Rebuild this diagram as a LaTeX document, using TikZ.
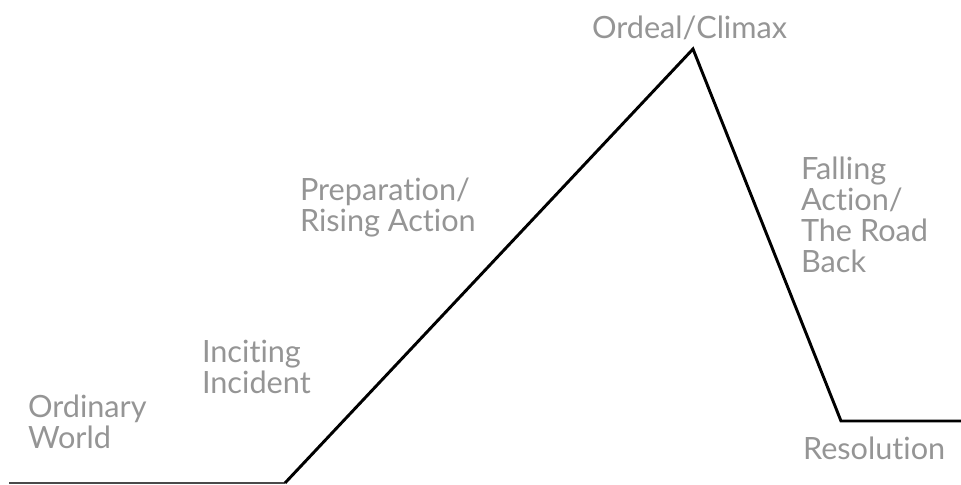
\documentclass[tikz,border=0pt]{standalone}
\usepackage{fontspec}
\setmainfont{Lato}[Ligatures={NoCommon,NoRare,NoContextual}]
\definecolor{labelgray}{HTML}{959595}
\definecolor{basegray}{HTML}{4A4A4A}
\tikzset{
  lbl/.style={anchor=base west, inner sep=0pt, outer sep=0pt, align=left,
    text=labelgray, font=\fontsize{23}{23.2}\selectfont},
  arc/.style={line width=2.2pt, line join=miter},
}
\begin{document}
\begin{tikzpicture}[x=0.75pt,y=-0.75pt]
\useasboundingbox (0,0) rectangle (961,485);
\coordinate (start) at (9,483);
\coordinate (foot) at (285,483);
\coordinate (peak) at (693,49);
\coordinate (low) at (841,421);
\coordinate (end) at (961,421);
\draw[line width=1.6pt, basegray] (start) -- (foot);
\draw[arc] (foot) -- (peak) -- (low) -- (end);
\node[lbl] (ord) at (28,448) {Ordinary\\World};
\node[lbl] (inc) at (202,393) {Inciting\\Incident};
\node[lbl] (prep) at (300,231) {Preparation/\\Rising Action};
\node[lbl] (clim) at (592,39) {Ordeal/Climax};
\node[lbl] (fall) at (801,272) {Falling\\Action/\\The Road\\Back};
\node[lbl] (res) at (803,459) {Resolution};
\end{tikzpicture}
\end{document}
